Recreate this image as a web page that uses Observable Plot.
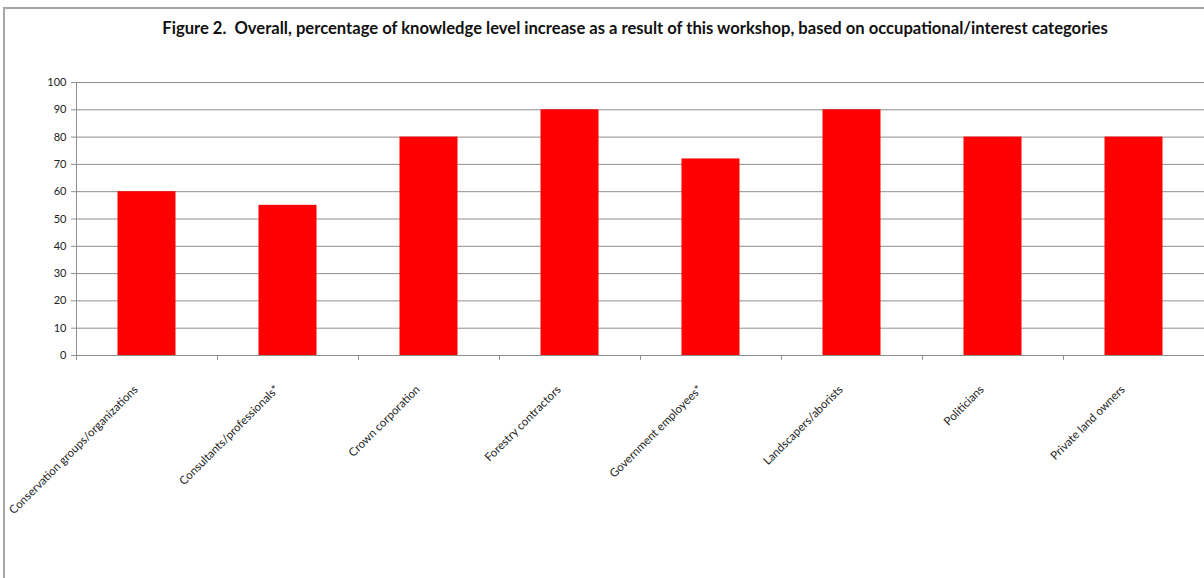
<!DOCTYPE html>
<html>
<head>
<meta charset="utf-8">
<script src="https://cdn.jsdelivr.net/npm/d3@7"></script>
<script src="https://cdn.jsdelivr.net/npm/@observablehq/plot@0.6"></script>
<style>
  html, body { margin: 0; padding: 0; background: #fff; }
  #wrap { position: relative; width: 1204px; height: 578px; overflow: hidden; }
  #frame { position: absolute; left: 3px; top: 7px; width: 1210px; height: 600px;
           border-left: 2px solid #a6a6a6; border-top: 2px solid #a6a6a6; box-sizing: border-box; }
  #title { position: relative; height: 42px; line-height: 56px; width: 1270px; text-align: center;
           font-family: Lato, sans-serif; font-weight: bold; font-size: 16.6px; color: #111; white-space: nowrap; }
  #chart svg { display: block; }
</style>
</head>
<body>
<div id="wrap">
  <div id="frame"></div>
  <div id="title">Figure 2.&nbsp; Overall, percentage of knowledge level increase as a result of this workshop, based on occupational/interest categories</div>
  <div id="chart"></div>
</div>
<script>
const categories = [
  "Conservation groups/organizations",
  "Consultants/professionals*",
  "Crown corporation",
  "Forestry contractors",
  "Government employees*",
  "Landscapers/aborists",
  "Politicians",
  "Private land owners"
];
const values = [60, 55, 80, 90, 72, 90, 80, 80];
const yTicks = [0, 10, 20, 30, 40, 50, 60, 70, 80, 90, 100];

const data = categories.map((c, i) => ({category: c, value: values[i]}));

const W = 1204, H = 536, mL = 76, mR = 0, mT = 40, mB = 223;
const bw = (W - mL - mR) / categories.length;
const gridColor = "#8e8e8e";

const chart = Plot.plot({
  width: W,
  height: H,
  marginLeft: mL,
  marginRight: mR,
  marginTop: mT,
  marginBottom: mB,
  style: {fontFamily: "Lato, sans-serif", color: "#222", background: "white"},
  x: {domain: categories, padding: 0, axis: null},
  y: {domain: [0, 100], axis: null},
  marks: [
    Plot.ruleY(yTicks, {stroke: gridColor, strokeWidth: 1}),
    Plot.barY(data, {x: "category", y: "value", fill: "#ff0000", insetLeft: (bw - 58) / 2, insetRight: (bw - 58) / 2}),
    Plot.ruleX([0], {x: () => categories[0], dx: -bw / 2, y1: 0, y2: 100, stroke: gridColor}),
    Plot.axisY({ticks: yTicks, tickSize: 5, tickPadding: 5, stroke: gridColor, fontSize: 11, label: null, tickFormat: d => String(d)}),
    Plot.ruleX(categories, {x: d => d, dx: -bw / 2, y1: 0, y2: -1.8, stroke: gridColor}),
    Plot.axisX({tickRotate: -45, tickSize: 0, tickPadding: 0, dx: -11, dy: 32, fontSize: 11.5, label: null})
  ]
});
document.getElementById("chart").appendChild(chart);
</script>
</body>
</html>
